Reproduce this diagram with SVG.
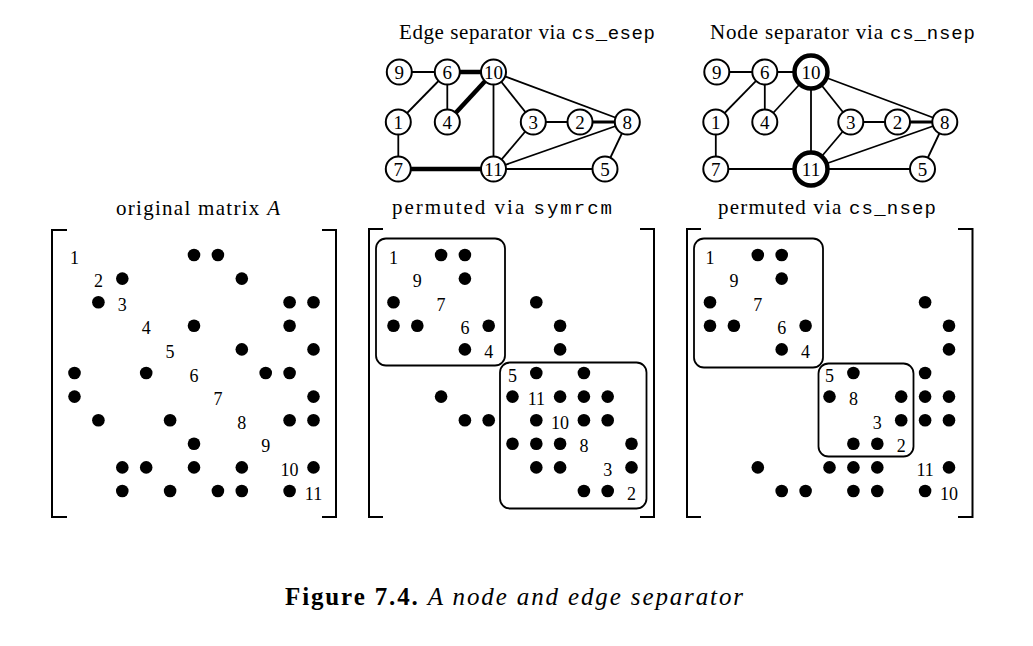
<svg xmlns="http://www.w3.org/2000/svg" width="1033" height="646" viewBox="0 0 1033 646">
<style>
text{font-family:"Liberation Serif","DejaVu Serif",serif;fill:#000}
.tt{font-family:"Liberation Mono","DejaVu Sans Mono",monospace;font-size:19px}
.title{font-size:21px}
.n circle{fill:#fff;stroke:#000;stroke-width:2}
.n text{font-size:19px;text-anchor:middle}
.n.big circle{stroke-width:4.5}
.e line{stroke:#000;stroke-width:1.8}
.e line.thick{stroke-width:4.5}
.e line.mid{stroke-width:3}
.d{fill:#000}
.dg{font-size:18px;text-anchor:middle}
.br{fill:none;stroke:#000;stroke-width:2}
.box{fill:none;stroke:#000;stroke-width:1.8}
.cap{font-size:25px}
</style>

<!-- Graph 1: edge separator -->
<text class="title" x="399" y="38.5" textLength="256" lengthAdjust="spacing">Edge separator via <tspan class="tt">cs_esep</tspan></text>
<g id="g1-edges" class="e">
<line x1="399.3" y1="72" x2="447.3" y2="72"/>
<line class="thick" x1="447.3" y1="72" x2="493.5" y2="72"/>
<line x1="447.3" y1="72" x2="398.3" y2="122"/>
<line x1="447.3" y1="72" x2="447.3" y2="122"/>
<line class="thick" x1="493.5" y1="72" x2="447.3" y2="122"/>
<line x1="493.5" y1="72" x2="493.5" y2="169"/>
<line x1="493.5" y1="72" x2="533.3" y2="122"/>
<line x1="493.5" y1="72" x2="627.3" y2="122"/>
<line x1="533.3" y1="122" x2="580" y2="122"/>
<line class="mid" x1="580" y1="122" x2="627.3" y2="122"/>
<line x1="533.3" y1="122" x2="493.5" y2="169"/>
<line x1="627.3" y1="122" x2="493.5" y2="169"/>
<line x1="627.3" y1="122" x2="605" y2="169"/>
<line x1="493.5" y1="169" x2="605" y2="169"/>
<line x1="398.3" y1="122" x2="398.3" y2="169"/>
<line class="thick" x1="398.3" y1="169" x2="493.5" y2="169"/>
</g>
<g id="g1-n9" class="n"><circle cx="399.3" cy="72" r="12.5"/><text x="399.3" y="78.5">9</text></g>
<g id="g1-n6" class="n"><circle cx="447.3" cy="72" r="12.5"/><text x="447.3" y="78.5">6</text></g>
<g id="g1-n10" class="n"><circle cx="493.5" cy="72" r="12.5"/><text x="493.5" y="78.5">10</text></g>
<g id="g1-n1" class="n"><circle cx="398.3" cy="122" r="12.5"/><text x="398.3" y="128.5">1</text></g>
<g id="g1-n4" class="n"><circle cx="447.3" cy="122" r="12.5"/><text x="447.3" y="128.5">4</text></g>
<g id="g1-n3" class="n"><circle cx="533.3" cy="122" r="12.5"/><text x="533.3" y="128.5">3</text></g>
<g id="g1-n2" class="n"><circle cx="580" cy="122" r="12.5"/><text x="580" y="128.5">2</text></g>
<g id="g1-n8" class="n"><circle cx="627.3" cy="122" r="12.5"/><text x="627.3" y="128.5">8</text></g>
<g id="g1-n7" class="n"><circle cx="398.3" cy="169" r="12.5"/><text x="398.3" y="175.5">7</text></g>
<g id="g1-n11" class="n"><circle cx="493.5" cy="169" r="12.5"/><text x="493.5" y="175.5">11</text></g>
<g id="g1-n5" class="n"><circle cx="605" cy="169" r="12.5"/><text x="605" y="175.5">5</text></g>

<!-- Graph 2: node separator -->
<text class="title" x="710" y="39" textLength="265" lengthAdjust="spacing">Node separator via <tspan class="tt">cs_nsep</tspan></text>
<g id="g2-edges" class="e">
<line x1="716.8" y1="72" x2="764.8" y2="72"/>
<line x1="764.8" y1="72" x2="811" y2="72"/>
<line x1="764.8" y1="72" x2="715.8" y2="122"/>
<line x1="764.8" y1="72" x2="764.8" y2="122"/>
<line x1="811" y1="72" x2="764.8" y2="122"/>
<line x1="811" y1="72" x2="811" y2="169"/>
<line x1="811" y1="72" x2="850.8" y2="122"/>
<line x1="811" y1="72" x2="944.8" y2="122"/>
<line x1="850.8" y1="122" x2="897.5" y2="122"/>
<line class="mid" x1="897.5" y1="122" x2="944.8" y2="122"/>
<line x1="850.8" y1="122" x2="811" y2="169"/>
<line x1="944.8" y1="122" x2="811" y2="169"/>
<line x1="944.8" y1="122" x2="922.5" y2="169"/>
<line x1="811" y1="169" x2="922.5" y2="169"/>
<line x1="715.8" y1="122" x2="715.8" y2="169"/>
<line x1="715.8" y1="169" x2="811" y2="169"/>
</g>
<g id="g2-n9" class="n"><circle cx="716.8" cy="72" r="12.5"/><text x="716.8" y="78.5">9</text></g>
<g id="g2-n6" class="n"><circle cx="764.8" cy="72" r="12.5"/><text x="764.8" y="78.5">6</text></g>
<g id="g2-n10" class="n big"><circle cx="811" cy="72" r="16.5"/><text x="811" y="78.5">10</text></g>
<g id="g2-n1" class="n"><circle cx="715.8" cy="122" r="12.5"/><text x="715.8" y="128.5">1</text></g>
<g id="g2-n4" class="n"><circle cx="764.8" cy="122" r="12.5"/><text x="764.8" y="128.5">4</text></g>
<g id="g2-n3" class="n"><circle cx="850.8" cy="122" r="12.5"/><text x="850.8" y="128.5">3</text></g>
<g id="g2-n2" class="n"><circle cx="897.5" cy="122" r="12.5"/><text x="897.5" y="128.5">2</text></g>
<g id="g2-n8" class="n"><circle cx="944.8" cy="122" r="12.5"/><text x="944.8" y="128.5">8</text></g>
<g id="g2-n7" class="n"><circle cx="715.8" cy="169" r="12.5"/><text x="715.8" y="175.5">7</text></g>
<g id="g2-n11" class="n big"><circle cx="811" cy="169" r="16.5"/><text x="811" y="175.5">11</text></g>
<g id="g2-n5" class="n"><circle cx="922.5" cy="169" r="12.5"/><text x="922.5" y="175.5">5</text></g>

<!-- Matrix 1: original A -->
<g id="m1">
<text class="title" x="116" y="215" textLength="164" lengthAdjust="spacing">original matrix <tspan font-style="italic">A</tspan></text>
<path class="br" d="M67,230 H52 V517 H67"/>
<path class="br" d="M322,230 H336 V517 H322"/>
<g class="dg">
<text x="74.5" y="263.5">1</text><text x="98.4" y="287.1">2</text><text x="122.3" y="310.7">3</text><text x="146.2" y="334.3">4</text><text x="170.1" y="357.9">5</text><text x="194" y="381.5">6</text><text x="217.9" y="405.1">7</text><text x="241.8" y="428.7">8</text><text x="265.7" y="452.3">9</text><text x="289.6" y="475.9">10</text><text x="313.5" y="499.5">11</text>
</g>
<g class="d">
<circle cx="194" cy="255" r="6.3"/><circle cx="217.9" cy="255" r="6.3"/>
<circle cx="122.3" cy="278.6" r="6.3"/><circle cx="241.8" cy="278.6" r="6.3"/>
<circle cx="98.4" cy="302.2" r="6.3"/><circle cx="289.6" cy="302.2" r="6.3"/><circle cx="313.5" cy="302.2" r="6.3"/>
<circle cx="194" cy="325.8" r="6.3"/><circle cx="289.6" cy="325.8" r="6.3"/>
<circle cx="241.8" cy="349.4" r="6.3"/><circle cx="313.5" cy="349.4" r="6.3"/>
<circle cx="74.5" cy="373" r="6.3"/><circle cx="146.2" cy="373" r="6.3"/><circle cx="265.7" cy="373" r="6.3"/><circle cx="289.6" cy="373" r="6.3"/>
<circle cx="74.5" cy="396.6" r="6.3"/><circle cx="313.5" cy="396.6" r="6.3"/>
<circle cx="98.4" cy="420.2" r="6.3"/><circle cx="170.1" cy="420.2" r="6.3"/><circle cx="289.6" cy="420.2" r="6.3"/><circle cx="313.5" cy="420.2" r="6.3"/>
<circle cx="194" cy="443.8" r="6.3"/>
<circle cx="122.3" cy="467.4" r="6.3"/><circle cx="146.2" cy="467.4" r="6.3"/><circle cx="194" cy="467.4" r="6.3"/><circle cx="241.8" cy="467.4" r="6.3"/><circle cx="313.5" cy="467.4" r="6.3"/>
<circle cx="122.3" cy="491" r="6.3"/><circle cx="170.1" cy="491" r="6.3"/><circle cx="217.9" cy="491" r="6.3"/><circle cx="241.8" cy="491" r="6.3"/><circle cx="289.6" cy="491" r="6.3"/>
</g>
</g>

<!-- Matrix 2: permuted via symrcm -->
<g id="m2">
<text class="title" x="392" y="214" textLength="220" lengthAdjust="spacing">permuted via <tspan class="tt">symrcm</tspan></text>
<path class="br" d="M383,229 H369 V517 H383"/>
<path class="br" d="M640,229 H654 V517 H640"/>
<rect class="box" x="376" y="238.5" width="129" height="127" rx="10"/>
<rect class="box" x="500" y="362.5" width="146.5" height="146" rx="10"/>
<g class="dg">
<text x="393.5" y="263.5">1</text><text x="417.3" y="287.1">9</text><text x="441.1" y="310.7">7</text><text x="464.9" y="334.3">6</text><text x="488.7" y="357.9">4</text><text x="512.5" y="381.5">5</text><text x="536.3" y="405.1">11</text><text x="560.1" y="428.7">10</text><text x="583.9" y="452.3">8</text><text x="607.7" y="475.9">3</text><text x="631.5" y="499.5">2</text>
</g>
<g class="d">
<circle cx="441.1" cy="255" r="6.3"/><circle cx="464.9" cy="255" r="6.3"/>
<circle cx="464.9" cy="278.6" r="6.3"/>
<circle cx="393.5" cy="302.2" r="6.3"/><circle cx="536.3" cy="302.2" r="6.3"/>
<circle cx="393.5" cy="325.8" r="6.3"/><circle cx="417.3" cy="325.8" r="6.3"/><circle cx="488.7" cy="325.8" r="6.3"/><circle cx="560.1" cy="325.8" r="6.3"/>
<circle cx="464.9" cy="349.4" r="6.3"/><circle cx="560.1" cy="349.4" r="6.3"/>
<circle cx="536.3" cy="373" r="6.3"/><circle cx="583.9" cy="373" r="6.3"/>
<circle cx="441.1" cy="396.6" r="6.3"/><circle cx="512.5" cy="396.6" r="6.3"/><circle cx="560.1" cy="396.6" r="6.3"/><circle cx="583.9" cy="396.6" r="6.3"/><circle cx="607.7" cy="396.6" r="6.3"/>
<circle cx="464.9" cy="420.2" r="6.3"/><circle cx="488.7" cy="420.2" r="6.3"/><circle cx="536.3" cy="420.2" r="6.3"/><circle cx="583.9" cy="420.2" r="6.3"/><circle cx="607.7" cy="420.2" r="6.3"/>
<circle cx="512.5" cy="443.8" r="6.3"/><circle cx="536.3" cy="443.8" r="6.3"/><circle cx="560.1" cy="443.8" r="6.3"/><circle cx="631.5" cy="443.8" r="6.3"/>
<circle cx="536.3" cy="467.4" r="6.3"/><circle cx="560.1" cy="467.4" r="6.3"/><circle cx="631.5" cy="467.4" r="6.3"/>
<circle cx="583.9" cy="491" r="6.3"/><circle cx="607.7" cy="491" r="6.3"/>
</g>
</g>

<!-- Matrix 3: permuted via cs_nsep -->
<g id="m3">
<text class="title" x="718" y="214" textLength="218" lengthAdjust="spacing">permuted via <tspan class="tt">cs_nsep</tspan></text>
<path class="br" d="M701,229 H687 V517 H701"/>
<path class="br" d="M958,229 H972.5 V517 H958"/>
<rect class="box" x="694" y="238.5" width="129" height="129" rx="10"/>
<rect class="box" x="818.5" y="363.5" width="95" height="93" rx="10"/>
<g class="dg">
<text x="710" y="263.5">1</text><text x="733.9" y="287.1">9</text><text x="757.8" y="310.7">7</text><text x="781.7" y="334.3">6</text><text x="805.6" y="357.9">4</text><text x="829.5" y="381.5">5</text><text x="853.4" y="405.1">8</text><text x="877.3" y="428.7">3</text><text x="901.2" y="452.3">2</text><text x="925.1" y="475.9">11</text><text x="949" y="499.5">10</text>
</g>
<g class="d">
<circle cx="757.8" cy="255" r="6.3"/><circle cx="781.7" cy="255" r="6.3"/>
<circle cx="781.7" cy="278.6" r="6.3"/>
<circle cx="710" cy="302.2" r="6.3"/><circle cx="925.1" cy="302.2" r="6.3"/>
<circle cx="710" cy="325.8" r="6.3"/><circle cx="733.9" cy="325.8" r="6.3"/><circle cx="805.6" cy="325.8" r="6.3"/><circle cx="949" cy="325.8" r="6.3"/>
<circle cx="781.7" cy="349.4" r="6.3"/><circle cx="949" cy="349.4" r="6.3"/>
<circle cx="853.4" cy="373" r="6.3"/><circle cx="925.1" cy="373" r="6.3"/>
<circle cx="829.5" cy="396.6" r="6.3"/><circle cx="901.2" cy="396.6" r="6.3"/><circle cx="925.1" cy="396.6" r="6.3"/><circle cx="949" cy="396.6" r="6.3"/>
<circle cx="901.2" cy="420.2" r="6.3"/><circle cx="925.1" cy="420.2" r="6.3"/><circle cx="949" cy="420.2" r="6.3"/>
<circle cx="853.4" cy="443.8" r="6.3"/><circle cx="877.3" cy="443.8" r="6.3"/>
<circle cx="757.8" cy="467.4" r="6.3"/><circle cx="829.5" cy="467.4" r="6.3"/><circle cx="853.4" cy="467.4" r="6.3"/><circle cx="877.3" cy="467.4" r="6.3"/><circle cx="949" cy="467.4" r="6.3"/>
<circle cx="781.7" cy="491" r="6.3"/><circle cx="805.6" cy="491" r="6.3"/><circle cx="853.4" cy="491" r="6.3"/><circle cx="877.3" cy="491" r="6.3"/><circle cx="925.1" cy="491" r="6.3"/>
</g>
</g>

<!-- Caption -->
<text class="cap" x="285" y="605" textLength="458" lengthAdjust="spacing"><tspan font-weight="bold">Figure 7.4.</tspan> <tspan font-style="italic">A node and edge separator</tspan></text>
</svg>
